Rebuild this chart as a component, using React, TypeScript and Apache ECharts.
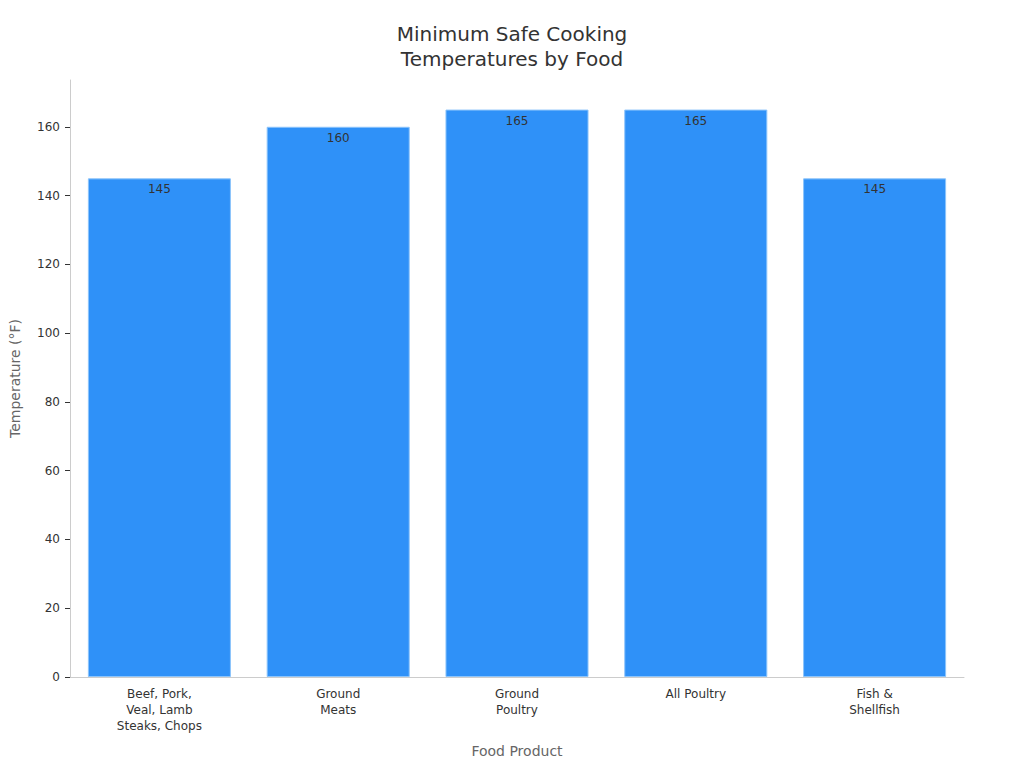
import React, { useEffect, useRef } from "react";
import * as echarts from "echarts";

const categories = [
  "Beef, Pork,\nVeal, Lamb\nSteaks, Chops",
  "Ground\nMeats",
  "Ground\nPoultry",
  "All Poultry",
  "Fish &\nShellfish",
];
const temperatures = [145, 160, 165, 165, 145];
const yTicks = [0, 20, 40, 60, 80, 100, 120, 140, 160];
const yMax = 173.6;

export default function App() {
  const ref = useRef<HTMLDivElement>(null);
  useEffect(() => {
    document.body.style.margin = "0";
    const chart = echarts.init(ref.current!, null, { renderer: "svg" });
    const font = "DejaVu Sans";
    chart.setOption({
      animation: false,
      textStyle: { fontFamily: font },
      title: {
        text: "Minimum Safe Cooking\nTemperatures by Food",
        left: "center",
        top: 16,
        textStyle: { fontFamily: font, fontSize: 20, fontWeight: "normal", color: "#333", lineHeight: 25 },
      },
      grid: { left: 65, right: 60, top: 80, bottom: 91, containLabel: false },
      xAxis: {
        type: "category",
        data: categories,
        name: "Food Product",
        nameLocation: "middle",
        nameGap: 67,
        nameTextStyle: { fontFamily: font, fontSize: 14, color: "#666" },
        axisLine: { lineStyle: { color: "#ccc" } },
        axisTick: { alignWithLabel: true, lineStyle: { color: "#333" }, length: 5 },
        axisLabel: { fontFamily: font, fontSize: 12, color: "#333", lineHeight: 16, margin: 9, interval: 0 },
      },
      yAxis: {
        type: "value",
        min: 0,
        max: yMax,
        name: "Temperature (°F)",
        nameLocation: "middle",
        nameGap: 48,
        nameTextStyle: { fontFamily: font, fontSize: 14, color: "#666" },
        axisLine: { show: true, lineStyle: { color: "#ccc" } },
        axisTick: { show: true, length: 5, lineStyle: { color: "#333" }, customValues: yTicks },
        axisLabel: { fontFamily: font, fontSize: 12, color: "#333", margin: 10, customValues: yTicks },
        splitLine: { show: false },
      },
      series: [
        {
          type: "bar",
          data: temperatures,
          barCategoryGap: "20%",
          itemStyle: { color: "#2f91f8", borderColor: "#8cc4fb", borderWidth: 1 },
          label: {
            show: true,
            position: "insideTop",
            distance: 5,
            fontFamily: font,
            fontSize: 12,
            color: "#333",
          },
        },
      ],
    });
    return () => chart.dispose();
  }, []);
  return <div ref={ref} style={{ width: 1024, height: 768 }} />;
}
